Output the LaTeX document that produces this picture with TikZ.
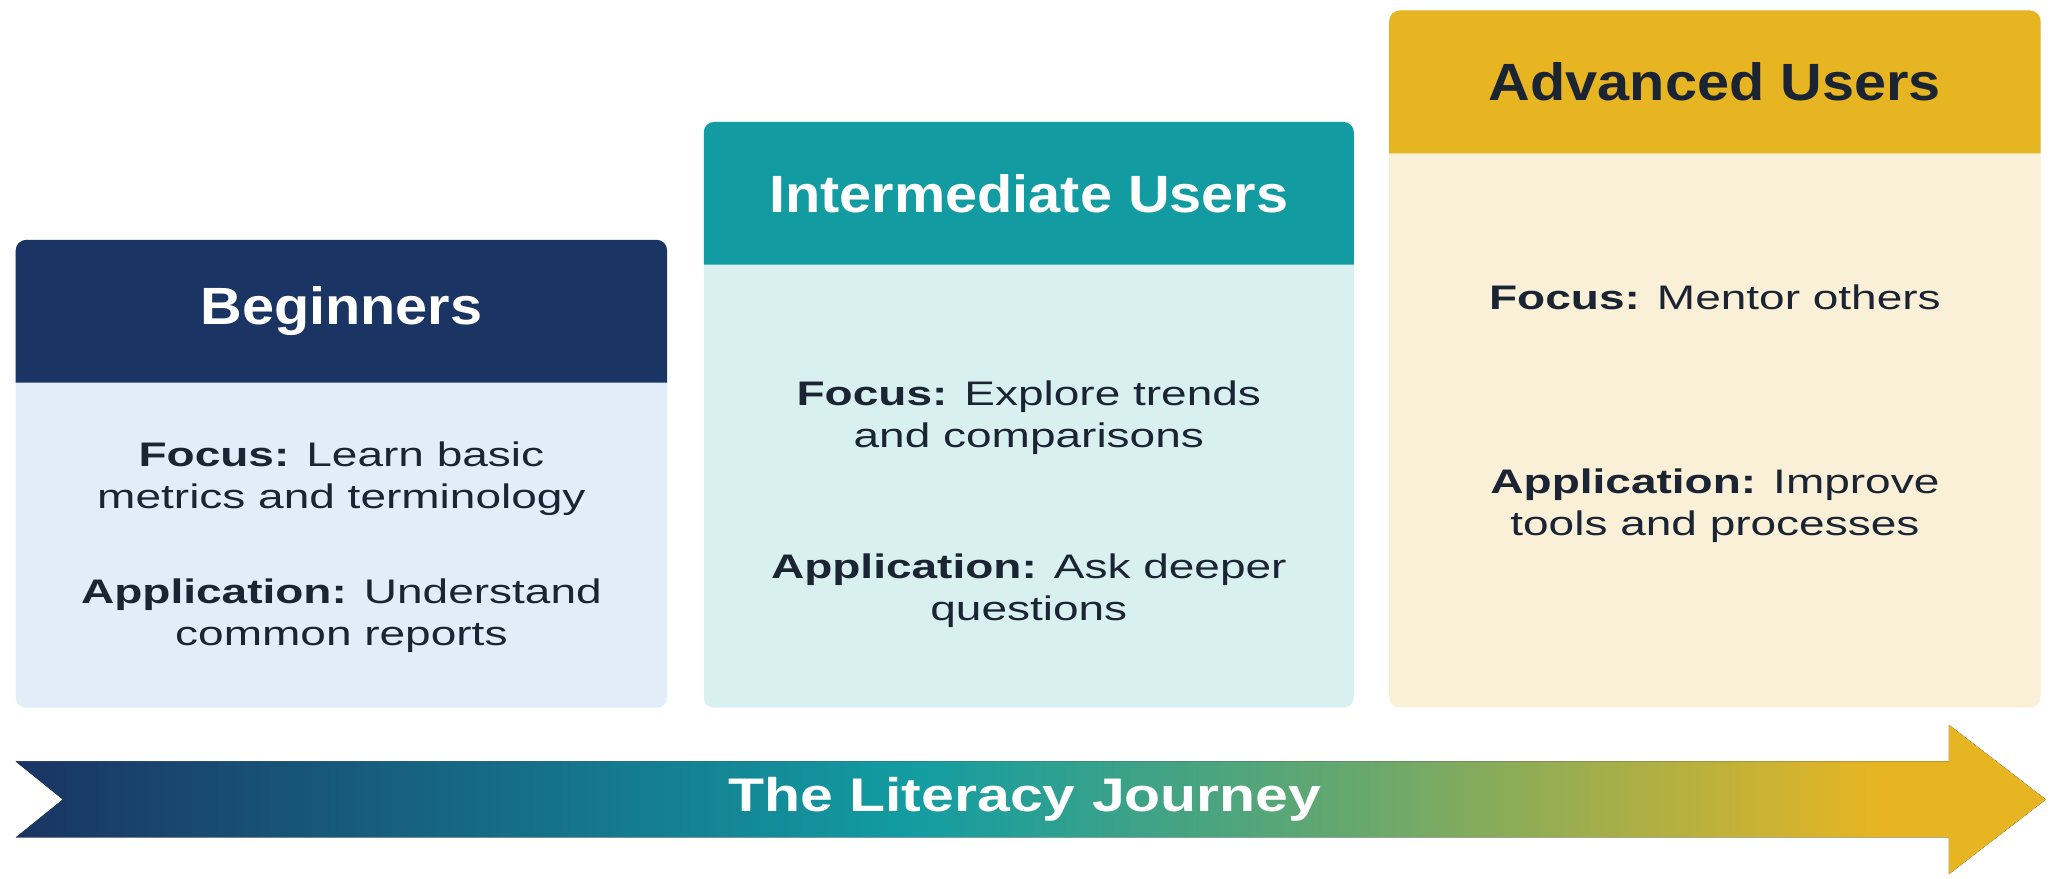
\documentclass[tikz,border=0pt]{standalone}
\usepackage{fontspec}
\setmainfont{Liberation Sans}
\newfontfamily\titlefont[FakeStretch=1.1]{Liberation Sans}
\newfontfamily\bodyfont[FakeStretch=1.35]{Liberation Sans}
\newfontfamily\arrowfont[FakeStretch=1.25]{Liberation Sans}
\usepackage{tikz}
\usepackage{xcolor}

\definecolor{navytop}{HTML}{1A3463}
\definecolor{navybody}{HTML}{E3EDF9}
\definecolor{tealtop}{HTML}{129CA2}
\definecolor{tealbody}{HTML}{D9F0F0}
\definecolor{goldtop}{HTML}{E8B522}
\definecolor{goldbody}{HTML}{FAF0D8}
\definecolor{inktext}{HTML}{1B2433}
\definecolor{midgreen}{HTML}{66A86E}

\pgfdeclarehorizontalshading{journey}{100bp}{color(0bp)=(navytop); color(25bp)=(navytop);
  color(47bp)=(tealtop); color(58bp)=(midgreen); color(71bp)=(goldtop); color(100bp)=(goldtop)}

\tikzset{
  title/.style={font=\titlefont\bfseries\fontsize{20}{24}\selectfont},
  info/.style={font=\bodyfont\fontsize{13}{16}\selectfont, text=inktext, align=center},
}

\begin{document}
\begin{tikzpicture}[x=1pt,y=1pt]
                \useasboundingbox (0,0) rectangle (784,-335);
                \fill[white] (0,0) rectangle (784,-335);
                % cards
                \fill[navybody, rounded corners=4pt] (6,-91.5) rectangle (254.5,-270);
                \fill[navytop] (6,-146) [rounded corners=4pt] -- (6,-91.5) -- (254.5,-91.5) [sharp corners] -- (254.5,-146) -- cycle;
                \fill[tealbody, rounded corners=4pt] (268.5,-46.5) rectangle (516.5,-270);
                \fill[tealtop] (268.5,-101) [rounded corners=4pt] -- (268.5,-46.5) -- (516.5,-46.5) [sharp corners] -- (516.5,-101) -- cycle;
                \fill[goldbody, rounded corners=4pt] (530,-4) rectangle (778.5,-270);
                \fill[goldtop] (530,-58.5) [rounded corners=4pt] -- (530,-4) -- (778.5,-4) [sharp corners] -- (778.5,-58.5) -- cycle;
                % arrow
                \fill[shading=journey] (6,-290.5) -- (743.5,-290.5) -- (743.5,-276.5) -- (780.5,-305) -- (743.5,-333.5) -- (743.5,-319.5) -- (6,-319.5) -- (24,-305) -- cycle;
                \node[] (journey) at (391,-305) {\arrowfont\bfseries\fontsize{18}{22}\selectfont\color{white}The Literacy Journey};
                % texts
                \node[title, text=white] (begt) at (130.25,-118.75) {Beginners};
                \node[info] (begf) at (130.25,-182.75) {\textbf{Focus:} Learn basic\\metrics and terminology};
                \node[info] (bega) at (130.25,-234.75) {\textbf{Application:} Understand\\common reports};
                \node[title, text=white] (intt) at (392.5,-73.75) {Intermediate Users};
                \node[info] (intf) at (392.5,-159.25) {\textbf{Focus:} Explore trends\\and comparisons};
                \node[info] (inta) at (392.5,-225.25) {\textbf{Application:} Ask deeper\\questions};
                \node[title, text=inktext] (advt) at (654.25,-31.25) {Advanced Users};
                \node[info] (advf) at (654.25,-113.5) {\textbf{Focus:} Mentor others};
                \node[info] (adva) at (654.25,-192.75) {\textbf{Application:} Improve\\tools and processes};
            \end{tikzpicture}
\end{document}
